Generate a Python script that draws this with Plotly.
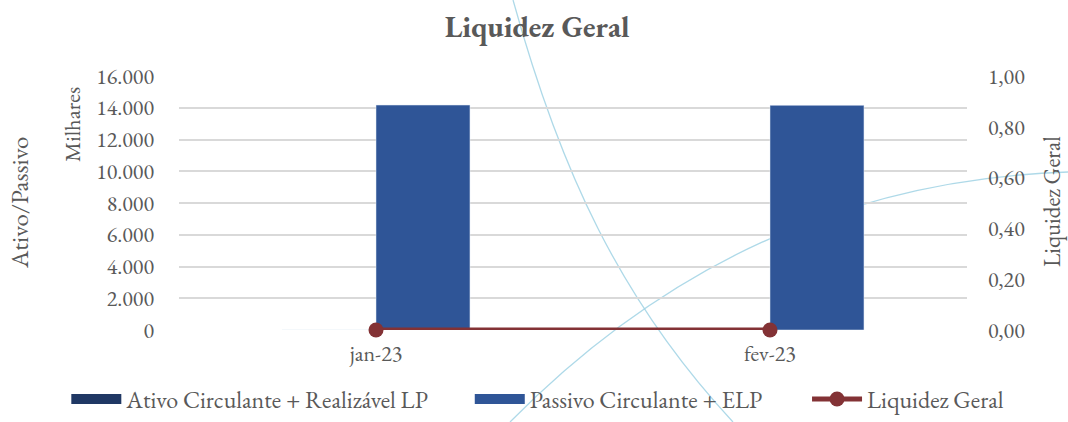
import plotly.graph_objects as go

# valores (em milhares)
meses = ["jan-23", "fev-23"]
ativo_circulante_rlp = [0, 0]
passivo_circulante_elp = [14170, 14150]
liquidez_geral = [0.0, 0.0]

FONT = "Garamond, 'EB Garamond', 'Liberation Serif', serif"
GREY = "#595959"
C_ATIVO = "#203864"
C_PASSIVO = "#2F5597"
C_LIQ = "#833235"

fig = go.Figure()

fig.add_trace(go.Bar(
    x=meses,
    y=ativo_circulante_rlp,
    name="Ativo Circulante + Realizável LP",
    marker=dict(color=C_ATIVO),
    showlegend=False,
))

fig.add_trace(go.Bar(
    x=meses,
    y=passivo_circulante_elp,
    name="Passivo Circulante + ELP",
    marker=dict(color=C_PASSIVO),
    showlegend=False,
))

fig.add_trace(go.Scatter(
    x=meses,
    y=liquidez_geral,
    name="Liquidez Geral",
    mode="lines+markers",
    yaxis="y2",
    line=dict(color=C_LIQ, width=5),
    marker=dict(color=C_LIQ, size=15),
    cliponaxis=False,
    showlegend=False,
))

# legend entries drawn as wide blocks like the original, one legend each
fig.add_trace(go.Scatter(
    x=[None], y=[None], mode="lines", name="Ativo Circulante + Realizável LP",
    line=dict(color=C_ATIVO, width=11), legend="legend",
))
fig.add_trace(go.Scatter(
    x=[None], y=[None], mode="lines", name="Passivo Circulante + ELP",
    line=dict(color=C_PASSIVO, width=11), legend="legend2",
))
fig.add_trace(go.Scatter(
    x=[None], y=[None], mode="lines+markers", name="Liquidez Geral",
    line=dict(color=C_LIQ, width=5),
    marker=dict(color=C_LIQ, size=15), legend="legend3",
))

# arcos decorativos do fundo (tema)
arc_color = "rgba(160,210,228,0.85)"
decor = [
    "M 0.4239,1.2992 C 0.4835,0.6299 0.5596,0.1181 0.7030,-0.3622",
    "M 0.4201,-0.3622 C 0.5850,0.1575 0.8135,0.5906 1.1282,0.6220",
]
shapes = [
    dict(type="path", path=p, xref="paper", yref="paper",
         line=dict(color=arc_color, width=1.3), layer="below")
    for p in decor
]

legend_style = dict(
    orientation="h",
    xanchor="left",
    y=-0.362, yanchor="bottom",
    font=dict(size=24, color=GREY),
    itemwidth=50,
    borderwidth=0,
    bgcolor="rgba(0,0,0,0)",
)

fig.update_layout(
    width=1068,
    height=422,
    margin=dict(l=179, r=101, t=76, b=92, autoexpand=False),
    paper_bgcolor="white",
    plot_bgcolor="rgba(0,0,0,0)",
    separators=",.",
    barmode="group",
    bargap=0.523,
    bargroupgap=0,
    font=dict(family=FONT, color=GREY, size=22),
    title=dict(
        text="<b>Liquidez Geral</b>",
        x=0.503, xanchor="center",
        y=0.938, yanchor="middle",
        font=dict(family=FONT, size=30, color=GREY),
    ),
    xaxis=dict(
        showgrid=False,
        showline=False,
        ticks="",
        ticklabelstandoff=8,
        tickfont=dict(size=22, color=GREY),
    ),
    yaxis=dict(
        range=[0, 16000],
        dtick=2000,
        tickformat=",.0f",
        gridcolor="#D9D9D9",
        gridwidth=1.5,
        zeroline=False,
        showline=False,
        ticks="",
        ticklabelstandoff=24,
        tickfont=dict(size=22, color=GREY),
    ),
    yaxis2=dict(
        overlaying="y",
        side="right",
        range=[0, 1],
        dtick=0.2,
        tickformat=".2f",
        showgrid=False,
        zeroline=False,
        showline=False,
        ticks="",
        ticklabelstandoff=20,
        tickfont=dict(size=22, color=GREY),
    ),
    legend=dict(legend_style, x=-0.143),
    legend2=dict(legend_style, x=0.369),
    legend3=dict(legend_style, x=0.797),
    showlegend=True,
    shapes=shapes,
    annotations=[
        dict(text="Ativo/Passivo", xref="paper", yref="paper",
             x=-0.203, y=0.50, textangle=-90, showarrow=False,
             xanchor="center", yanchor="middle",
             font=dict(size=25, color=GREY)),
        dict(text="Milhares", xref="paper", yref="paper",
             x=-0.136, y=0.81, textangle=-90, showarrow=False,
             xanchor="center", yanchor="middle",
             font=dict(size=22.5, color=GREY)),
        dict(text="Liquidez Geral", xref="paper", yref="paper",
             x=1.108, y=0.504, textangle=-90, showarrow=False,
             xanchor="center", yanchor="middle",
             font=dict(size=23, color=GREY)),
    ],
)

fig.write_html(
    "out.html",
    config={"displayModeBar": False},
    post_script="document.body.style.margin='0';",
)
